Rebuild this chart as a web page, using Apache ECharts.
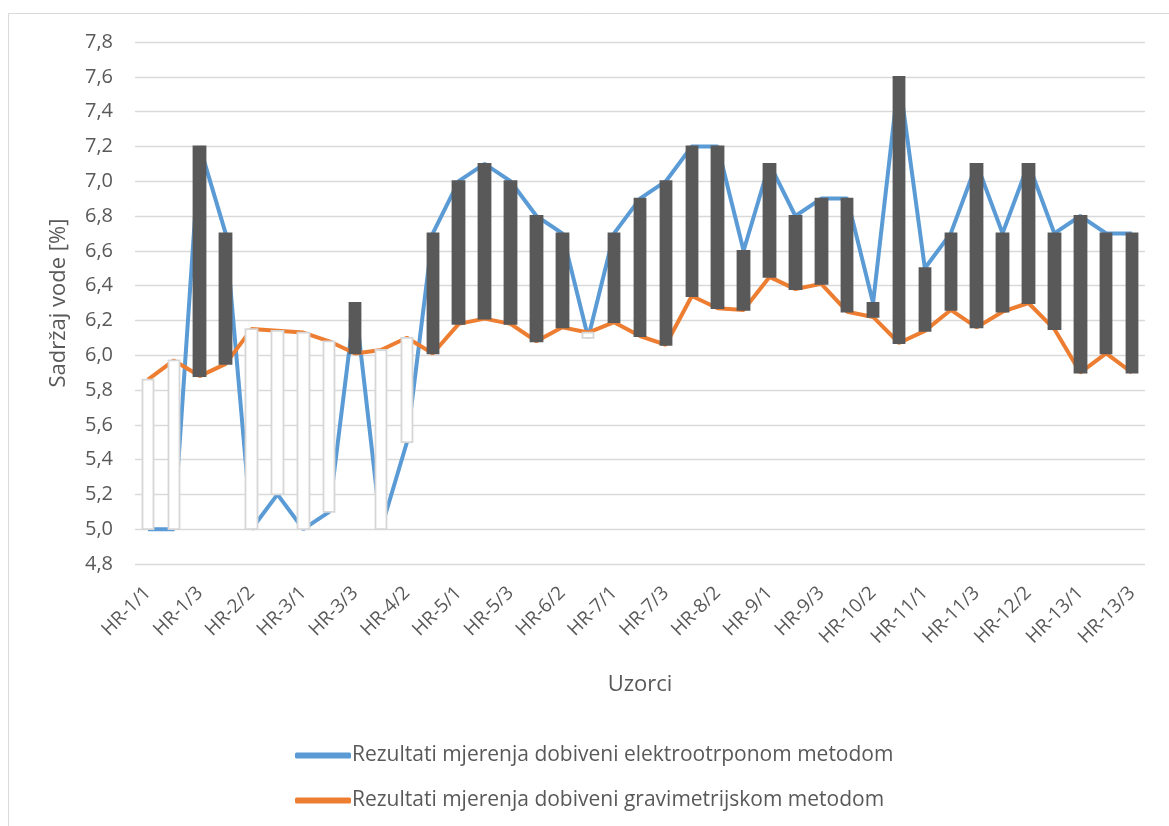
<!DOCTYPE html>
<html>
<head>
<meta charset="utf-8">
<script src="https://cdn.jsdelivr.net/npm/echarts@6/dist/echarts.min.js"></script>
<style>
  html, body { margin: 0; padding: 0; background: #fff; }
  #chart { width: 1169px; height: 826px; }
</style>
</head>
<body>
<div id="chart"></div>
<script>
// uzorci
const samples = [
  "HR-1/1", "HR-1/2", "HR-1/3", "HR-2/1", "HR-2/2", "HR-2/3",
  "HR-3/1", "HR-3/2", "HR-3/3", "HR-4/1", "HR-4/2", "HR-4/3",
  "HR-5/1", "HR-5/2", "HR-5/3", "HR-6/1", "HR-6/2", "HR-6/3",
  "HR-7/1", "HR-7/2", "HR-7/3", "HR-8/1", "HR-8/2", "HR-8/3",
  "HR-9/1", "HR-9/2", "HR-9/3", "HR-10/1", "HR-10/2", "HR-10/3",
  "HR-11/1", "HR-11/2", "HR-11/3", "HR-12/1", "HR-12/2", "HR-12/3",
  "HR-13/1", "HR-13/2", "HR-13/3"
];
// elektrootporna metoda
const electro = [
  5.0, 5.0, 7.2, 6.7, 5.0, 5.2,
  5.0, 5.1, 6.3, 5.0, 5.5, 6.7,
  7.0, 7.1, 7.0, 6.8, 6.7, 6.1,
  6.7, 6.9, 7.0, 7.2, 7.2, 6.6,
  7.1, 6.8, 6.9, 6.9, 6.3, 7.6,
  6.5, 6.7, 7.1, 6.7, 7.1, 6.7,
  6.8, 6.7, 6.7
];
// gravimetrijska metoda
const gravi = [
  5.86, 5.97, 5.88, 5.95, 6.15, 6.14,
  6.13, 6.08, 6.01, 6.03, 6.10, 6.01,
  6.18, 6.21, 6.18, 6.08, 6.16, 6.13,
  6.19, 6.11, 6.06, 6.34, 6.27, 6.26,
  6.45, 6.38, 6.41, 6.25, 6.22, 6.07,
  6.14, 6.26, 6.16, 6.25, 6.30, 6.15,
  5.90, 6.01, 5.90
];
const nameElectro = "Rezultati mjerenja dobiveni elektrootrponom metodom";
const nameGravi = "Rezultati mjerenja dobiveni gravimetrijskom metodom";

// up/down stupci: [open, close, low, high]
const upDown = gravi.map((g, i) => [g, electro[i], Math.min(g, electro[i]), Math.max(g, electro[i])]);

const font = '"Open Sans", "Liberation Sans", sans-serif';
const chart = echarts.init(document.getElementById("chart"));
chart.setOption({
  animation: false,
  textStyle: { fontFamily: font },
  graphic: [{
    type: "rect",
    shape: { x: 8.5, y: 13.5, width: 1300, height: 900 },
    style: { fill: "none", stroke: "#d9d9d9", lineWidth: 1 },
    silent: true
  }],
  grid: { left: 135, right: 24, top: 42, bottom: 262 },
  legend: {
    orient: "vertical",
    left: 290,
    top: 740,
    itemGap: 24,
    itemWidth: 56,
    itemHeight: 6,
    icon: "roundRect",
    itemStyle: { borderWidth: 0 },
    textStyle: { color: "#595959", fontSize: 21, padding: [0, 0, 0, -4] },
    data: [nameElectro, nameGravi]
  },
  xAxis: {
    type: "category",
    data: samples,
    name: "Uzorci",
    nameLocation: "middle",
    nameGap: 110,
    nameTextStyle: { color: "#595959", fontSize: 22 },
    axisLine: { show: false },
    axisTick: { show: false },
    axisLabel: { interval: 1, rotate: 45, color: "#595959", fontSize: 19, margin: 26 }
  },
  yAxis: {
    type: "value",
    min: 4.8,
    max: 7.8,
    interval: 0.2,
    name: "Sadržaj vode [%]",
    nameLocation: "middle",
    nameGap: 65,
    nameTextStyle: { color: "#595959", fontSize: 22 },
    axisLabel: {
      color: "#595959",
      fontSize: 20,
      margin: 22,
      formatter: v => v.toFixed(1).replace(".", ",")
    },
    splitLine: { lineStyle: { color: "#d9d9d9", width: 1.3 } }
  },
  series: [
    {
      name: nameElectro,
      type: "line",
      data: electro,
      symbol: "none",
      color: "#5b9bd5",
      lineStyle: { width: 4, color: "#5b9bd5" },
      z: 2
    },
    {
      name: nameGravi,
      type: "line",
      data: gravi,
      symbol: "none",
      color: "#ed7d31",
      lineStyle: { width: 4, color: "#ed7d31" },
      z: 3
    },
    {
      name: "updown",
      type: "candlestick",
      data: upDown,
      barWidth: 12,
      itemStyle: {
        color: "#595959",
        borderColor: "#595959",
        color0: "#ffffff",
        borderColor0: "#d6d6d6",
        borderWidth: 1.8
      },
      z: 5
    }
  ]
});
</script>
</body>
</html>
